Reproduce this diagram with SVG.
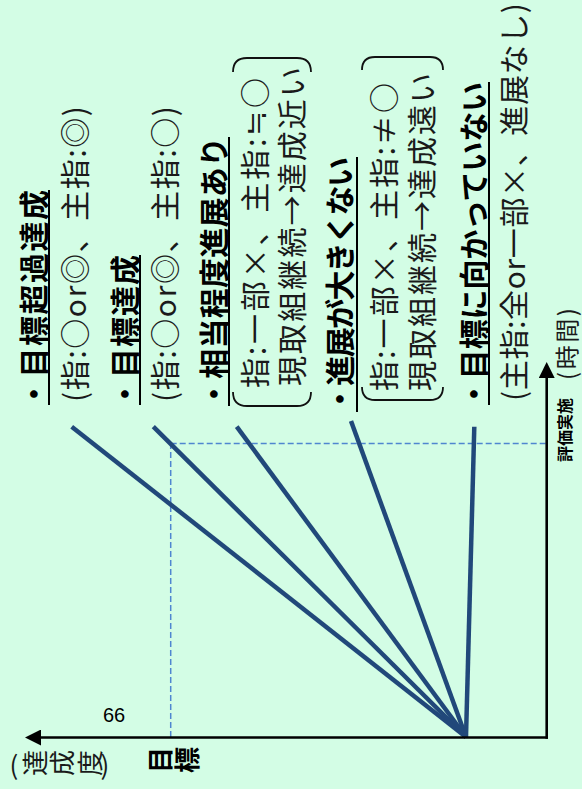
<svg xmlns="http://www.w3.org/2000/svg" width="582" height="789" viewBox="0 0 582 789">
  <defs>
    <style>
      .ti { font-family: "Noto Sans CJK JP", "Noto Sans CJK SC", sans-serif; font-weight: bold; font-size: 30px; fill: #000; }
      .tx { font-family: "Noto Sans CJK JP", "Noto Sans CJK SC", sans-serif; font-weight: normal; font-size: 30px; fill: #1a1a1a; }
      .ul { stroke: #000; stroke-width: 2; fill: none; }
      .br { stroke: #111; stroke-width: 1.8; fill: none; }
      .fan { stroke: #21487a; stroke-width: 4.5; fill: none; stroke-linecap: butt; }
      .dash { stroke: #4f86d0; stroke-width: 1.5; stroke-dasharray: 6 3; fill: none; }
      .axis { stroke: #000; stroke-width: 2.6; fill: none; stroke-linecap: square; }
    </style>
    <marker id="arr" viewBox="0 0 16 16" refX="0" refY="8" markerWidth="16" markerHeight="16" markerUnits="userSpaceOnUse" orient="auto">
      <path d="M0,0 L16,8 L0,16 z" fill="#000"/>
    </marker>
  </defs>

  <rect x="0" y="0" width="582" height="789" fill="#d3fde5"/>

  <g id="item-overachieve">
    <text class="ti" transform="translate(45,409) rotate(-90)" textLength="219">・目標超過達成</text>
    <line class="ul" x1="49" y1="405" x2="49" y2="190"/>
    <text class="tx" transform="translate(86,402) rotate(-90)" textLength="296">(指:○or◎、主指:◎)</text>
  </g>

  <g id="item-achieve">
    <text class="ti" transform="translate(136,409) rotate(-90)" textLength="154">・目標達成</text>
    <line class="ul" x1="140" y1="405" x2="140" y2="255"/>
    <text class="tx" transform="translate(176,402) rotate(-90)" textLength="296">(指:○or◎、主指:○)</text>
  </g>

  <g id="item-progress">
    <text class="ti" transform="translate(225,409) rotate(-90)" textLength="272">・相当程度進展あり</text>
    <line class="ul" x1="229" y1="406" x2="229" y2="137"/>
    <path class="br" d="M233,72 Q233,58 247,58 L297,58 Q311,58 311,72"/>
    <path class="br" d="M233,392 Q233,406 247,406 L297,406 Q311,406 311,392"/>
    <text class="tx" transform="translate(266,388) rotate(-90)" textLength="310">指:一部×、主指:≒○</text>
    <text class="tx" transform="translate(303,386) rotate(-90)" textLength="319">現取組継続→達成近い</text>
  </g>

  <g id="item-small-progress">
    <text class="ti" transform="translate(351,414) rotate(-90)" textLength="257">・進展が大きくない</text>
    <line class="ul" x1="357" y1="412" x2="357" y2="157"/>
    <path class="br" d="M362,70 Q362,57 375,57 L430,57 Q443,57 443,70"/>
    <path class="br" d="M362,387 Q362,400 375,400 L430,400 Q443,400 443,387"/>
    <text class="tx" transform="translate(395,391) rotate(-90)" textLength="308">指:一部×、主指:≠○</text>
    <text class="tx" transform="translate(433,391) rotate(-90)" textLength="318">現取組継続→達成遠い</text>
  </g>

  <g id="item-not-toward">
    <text class="ti" transform="translate(485,409) rotate(-90)" textLength="327">・目標に向かっていない</text>
    <line class="ul" x1="489" y1="405" x2="489" y2="82"/>
    <text class="tx" transform="translate(525,401) rotate(-90)" textLength="398">(主指:全or一部×、進展なし)</text>
  </g>

  <g id="axis-time-labels">
    <text class="tx" style="font-size:24px" transform="translate(576,380) rotate(-90)" textLength="72">(時間)</text>
    <text class="ti" style="font-size:16px" transform="translate(571,462) rotate(-90)">評価実施</text>
  </g>

  <g id="axis-achievement-labels">
    <text style="font-family: 'Liberation Sans', Arial, sans-serif; font-size: 20px; fill:#000" x="114" y="722" text-anchor="middle">66</text>
    <text class="ti" style="font-size:26px" transform="translate(158.5,760) rotate(-90)" text-anchor="middle" dominant-baseline="central">目</text>
    <text class="ti" style="font-size:26px" transform="translate(185,760) rotate(-90)" text-anchor="middle" dominant-baseline="central">標</text>
    <text class="tx" style="font-size:26px" x="14" y="763" text-anchor="middle" dominant-baseline="central">(</text>
    <text class="tx" style="font-size:26px" transform="translate(33,763) rotate(-90)" text-anchor="middle" dominant-baseline="central">達</text>
    <text class="tx" style="font-size:26px" transform="translate(60,763) rotate(-90)" text-anchor="middle" dominant-baseline="central">成</text>
    <text class="tx" style="font-size:26px" transform="translate(88,763) rotate(-90)" text-anchor="middle" dominant-baseline="central">度</text>
    <text class="tx" style="font-size:26px" x="105" y="763" text-anchor="middle" dominant-baseline="central">)</text>
  </g>

  <g id="connectors">
    <line class="dash" x1="170.7" y1="737" x2="170.7" y2="443.5"/>
    <line class="dash" x1="170.7" y1="443.5" x2="546" y2="443.5"/>
    <line class="fan" x1="466" y1="737" x2="71.7" y2="426.7"/>
    <line class="fan" x1="466" y1="737" x2="153.3" y2="426.7"/>
    <line class="fan" x1="466" y1="737" x2="236.7" y2="426.7"/>
    <line class="fan" x1="466" y1="737" x2="351" y2="421"/>
    <line class="fan" x1="466" y1="737" x2="474.3" y2="426.7"/>
    <line class="axis" x1="546.7" y1="737.5" x2="41" y2="737.5" marker-end="url(#arr)"/>
    <line class="axis" x1="546.7" y1="737.5" x2="546.7" y2="378" marker-end="url(#arr)"/>
  </g>
</svg>
